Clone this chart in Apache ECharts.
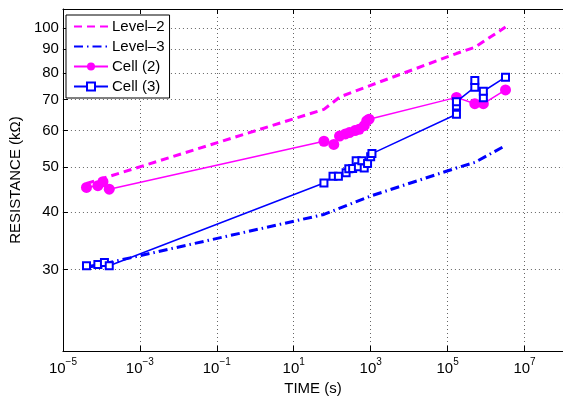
<!DOCTYPE html>
<html>
<head>
<meta charset="utf-8">
<script src="https://cdn.jsdelivr.net/npm/echarts@6/dist/echarts.min.js"></script>
<style>
  html, body { margin: 0; padding: 0; background: #fff; }
  #chart { width: 563px; height: 401px; }
</style>
</head>
<body>
<div id="chart"></div>
<script>
const chart = echarts.init(document.getElementById("chart"));

// time in seconds, resistance in kOhm
const level2Time = [4.1e-5, 61, 160, 1000, 1.7e5, 5.1e5, 3.2e6];
const level2Res = [46.1, 66.7, 71.0, 75.2, 88.1, 90.9, 100.5];

const level3Time = [4.1e-5, 61, 1000, 1.7e5, 5.1e5, 3.2e6];
const level3Res = [30.3, 39.5, 43.3, 49.8, 51.2, 55.7];

const cell2Time = [4.1e-5, 8.1e-5, 1.1e-4, 1.6e-4, 61, 110, 155, 220, 280, 390, 500, 680, 790, 910, 1.7e5, 5.1e5, 8.5e5, 3.2e6];
const cell2Res = [45.2, 45.6, 46.5, 44.8, 56.9, 56.0, 58.4, 59.0, 59.4, 60.0, 60.4, 61.5, 63.0, 63.5, 70.8, 68.6, 68.6, 73.5];

const cell3Time = [4.1e-5, 8.1e-5, 1.2e-4, 1.6e-4, 61, 105, 145, 230, 270, 340, 420, 480, 590, 680, 830, 1000, 1080, 1.7e5, 1.7e5, 1.7e5, 5.1e5, 5.1e5, 8.5e5, 8.5e5, 3.2e6];
const cell3Res = [30.6, 30.8, 31.1, 30.6, 46.2, 47.8, 47.8, 48.6, 49.6, 49.7, 51.6, 50.1, 51.6, 49.8, 50.9, 52.7, 53.5, 65.1, 67.8, 69.3, 74.5, 77.0, 70.7, 73.0, 78.3];

const xTicks = [1e-5, 1e-3, 1e-1, 1e1, 1e3, 1e5, 1e7];
const yTicks = [30, 40, 50, 60, 70, 80, 90, 100];

const pairs = (xs, ys) => xs.map((x, i) => [x, ys[i]]);
const FONT = "Liberation Sans";
const gridDots = { show: true, lineStyle: { color: "#666", width: 1, type: [1, 3] } };
const noSymbol = { opacity: 0, borderWidth: 0 };

chart.setOption({
  animation: false,
  backgroundColor: "#fff",
  textStyle: { fontFamily: FONT },
  grid: { left: 61, top: 9, width: 505, height: 348 },
  legend: {
    orient: "vertical",
    left: 66, top: 15,
    padding: [4, 5, 4, 7],
    itemWidth: 34, itemHeight: 10, itemGap: 5,
    borderColor: "#000", borderWidth: 1,
    backgroundColor: "#fff",
    textStyle: { fontSize: 15, color: "#000", fontFamily: FONT, padding: [0, 0, 0, -1] },
    data: [
      { name: "Level–2", itemStyle: noSymbol },
      { name: "Level–3", itemStyle: noSymbol },
      { name: "Cell (2)" },
      { name: "Cell (3)" },
    ],
  },
  xAxis: [{
    type: "log", logBase: 10, min: 1e-5, max: 1e8,
    name: "TIME (s)", nameLocation: "middle", nameGap: 30,
    nameTextStyle: { fontSize: 15, color: "#000", fontFamily: FONT },
    axisLine: { lineStyle: { color: "#000", width: 1 } },
    axisTick: { inside: true, length: 5, customValues: xTicks, lineStyle: { color: "#000" } },
    minorTick: { show: false },
    axisLabel: {
      customValues: xTicks, margin: 7, color: "#000",
      formatter: v => {
        const e = Math.round(Math.log10(v));
        return "{b|10}{s|" + (e < 0 ? "−" : "") + Math.abs(e) + "}";
      },
      rich: {
        b: { fontSize: 15, fontFamily: FONT, color: "#000", verticalAlign: "bottom", lineHeight: 18 },
        s: { fontSize: 10, fontFamily: FONT, color: "#000", verticalAlign: "bottom", lineHeight: 18, padding: [0, 0, 9, 0] },
      },
    },
    splitLine: gridDots,
  }, {
    type: "log", logBase: 10, min: 1e-5, max: 1e8, position: "top",
    axisLine: { lineStyle: { color: "#000", width: 1 } },
    axisTick: { inside: true, length: 5, customValues: xTicks, lineStyle: { color: "#000" } },
    axisLabel: { show: false },
    splitLine: { show: false },
  }],
  yAxis: {
    type: "log", logBase: 10, min: 20, max: 110,
    name: "RESISTANCE (kΩ)", nameLocation: "middle", nameGap: 39, nameRotate: 90,
    nameTextStyle: { fontSize: 15, color: "#000", fontFamily: FONT },
    axisLine: { show: true, lineStyle: { color: "#000", width: 1 } },
    axisTick: { show: true, inside: true, length: 5, customValues: yTicks, lineStyle: { color: "#000" } },
    axisLabel: { customValues: yTicks, fontSize: 15, color: "#000", margin: 4, formatter: v => String(Math.round(v)) },
    splitLine: gridDots,
  },
  series: [{
    name: "Level–2", type: "line", data: pairs(level2Time, level2Res),
    symbol: "none", lineStyle: { color: "#ff00ff", width: 3, type: [8, 5] },
    itemStyle: { color: "#ff00ff" }, z: 2,
  }, {
    name: "Level–3", type: "line", data: pairs(level3Time, level3Res),
    symbol: "none", lineStyle: { color: "#0000ff", width: 3, type: [9, 4, 1.5, 4] },
    itemStyle: { color: "#0000ff" }, z: 2,
  }, {
    name: "Cell (2)", type: "line", data: pairs(cell2Time, cell2Res),
    symbol: "circle", symbolSize: 11,
    lineStyle: { color: "#ff00ff", width: 1.5 },
    itemStyle: { color: "#ff00ff" }, z: 3,
  }, {
    name: "Cell (3)", type: "line", data: pairs(cell3Time, cell3Res),
    symbol: "emptyRect", symbolSize: 7,
    lineStyle: { color: "#0000ff", width: 1.5 },
    itemStyle: { color: "#0000ff", borderWidth: 1.5 }, z: 4,
  }],
});
</script>
</body>
</html>
